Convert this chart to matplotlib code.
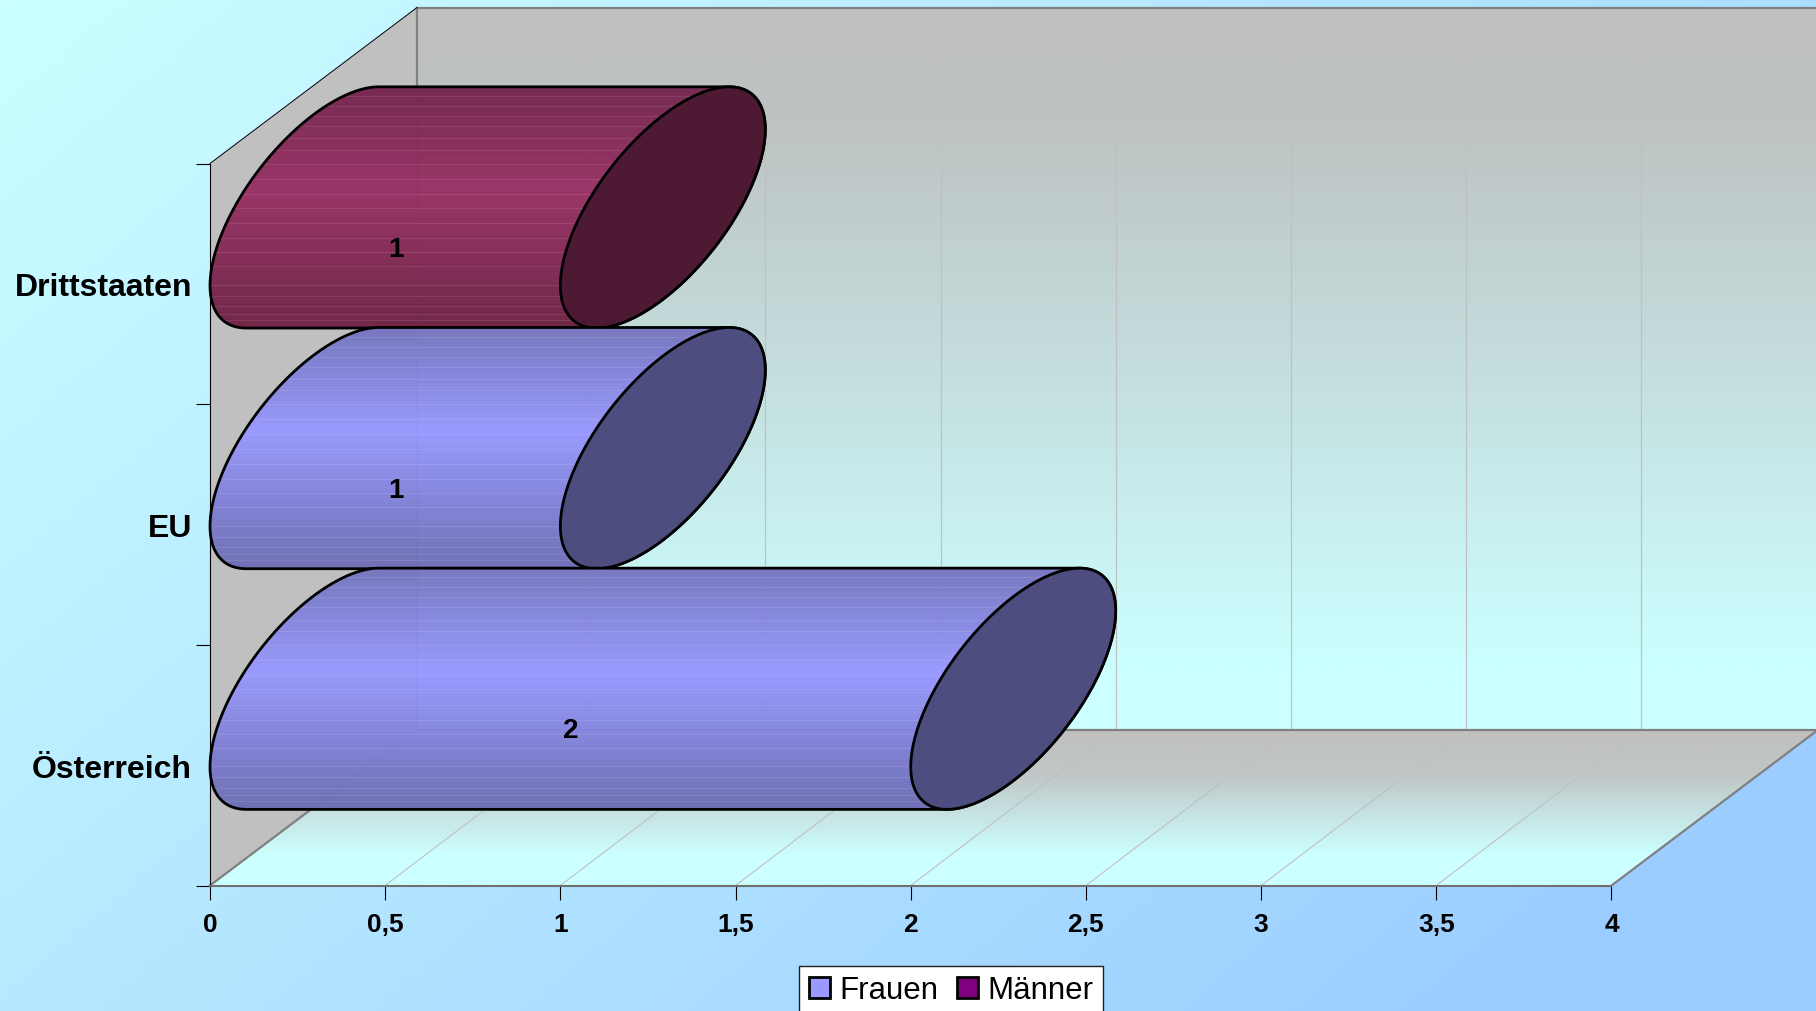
import numpy as np
import matplotlib
matplotlib.use("Agg")
import matplotlib.pyplot as plt
from matplotlib.colors import LinearSegmentedColormap
from matplotlib.patches import Patch, Polygon

categories = ["Österreich", "EU", "Drittstaaten"]
frauen = [2, 1, 0]
maenner = [0, 0, 1]
x_ticks = [0, 0.5, 1, 1.5, 2, 2.5, 3, 3.5, 4]
x_labels = ["0", "0,5", "1", "1,5", "2", "2,5", "3", "3,5", "4"]

plt.rcParams["font.family"] = ["Liberation Sans", "DejaVu Sans"]

W, H = 1816, 1012
# axes box in pixels, depth of the fake 3d box in data units
X0, X1, Y0, Y1 = 210, 1611.5, 886.5, 164.5
XMAX, YMAX = 4, 3
DX = 207 / ((X1 - X0) / XMAX)
DY = 156 / ((Y0 - Y1) / YMAX)
DX_GRID = 205 / ((X1 - X0) / XMAX)  # wall gridlines sit a little left of the corner offset
RV = 92 / ((Y0 - Y1) / YMAX)  # vertical radius of the cylinders
RX = 0.495 * DX  # horizontal radius of the caps
RD = DY / 2
SHIFT = 1.6 / ((Y0 - Y1) / YMAX)

fig = plt.figure(figsize=(W / 100, H / 100), dpi=100)

# page background
bg = fig.add_axes([0, 0, 1, 1], zorder=-1)
yy, xx = np.mgrid[0:1:200j, 0:1:200j]
page = LinearSegmentedColormap.from_list("page", ["#CCFFFF", "#99CCFF"])
bg.imshow(np.clip(0.65 * xx + 0.42 * yy, 0, 1), cmap=page, vmin=0, vmax=1, aspect="auto")
bg.axis("off")

ax = fig.add_axes([X0 / W, (H - Y0) / H, (X1 - X0) / W, (Y0 - Y1) / H])
ax.patch.set_visible(False)


def clipped_gradient(colors, extent, clip_pts, zorder, alpha=None):
    cmap = LinearSegmentedColormap.from_list("g", colors)
    grad = np.linspace(0, 1, 256).reshape(-1, 1)
    im = ax.imshow(grad, cmap=cmap, extent=extent, origin="upper", aspect="auto",
                   zorder=zorder, alpha=alpha, interpolation="bilinear")
    poly = Polygon(clip_pts, closed=True, transform=ax.transData)
    im.set_clip_box(fig.bbox)
    im.set_clip_path(poly)
    return im


# walls and floor
back_pts = [(DX, DY), (XMAX + DX, DY), (XMAX + DX, YMAX + DY), (DX, YMAX + DY)]
clipped_gradient([(0, "#C0C0C0"), (0.15, "#BEC2C2"), (0.91, "#CCFFFF"), (1, "#CCFFFF")],
                 (DX, XMAX + DX, DY, YMAX + DY), back_pts, 0.5)
floor_pts = [(0, 0), (XMAX, 0), (XMAX + DX, DY), (DX, DY)]
clipped_gradient([(0, "#C0C0C0"), (0.28, "#C0C6C6"), (0.8, "#CCFFFF"), (1, "#CCFFFF")],
                 (0, XMAX + DX, 0, DY), floor_pts, 0.5)
ax.add_patch(Polygon([(0, 0), (DX, DY), (DX, YMAX + DY), (0, YMAX)], closed=True,
                     fc="#C0C0C0", ec="none", clip_on=False, zorder=0.6))

# grid
for v in x_ticks[1:]:
    ax.plot([v, v + DX_GRID], [0, DY], color="#C0C0C0", lw=0.8, clip_on=False, zorder=0.8)
    if v < XMAX:
        ax.plot([v + DX_GRID, v + DX_GRID], [DY, YMAX + DY], color="#C0C0C0", lw=0.9,
                clip_on=False, zorder=0.8)

# box edges
edge = dict(color="#808080", lw=1.6, clip_on=False, zorder=0.9)
ax.plot([DX, XMAX + DX], [YMAX + DY, YMAX + DY], **edge)
ax.plot([DX, DX], [DY, YMAX + DY], **edge)
ax.plot([DX, XMAX + DX], [DY, DY], **edge)
ax.plot([0, DX], [0, DY], **edge)
ax.plot([XMAX, XMAX + DX], [0, DY], **edge)
ax.plot([0, DX], [YMAX, YMAX + DY], color="black", lw=0.7, clip_on=False, zorder=0.9)

# seams of the banded gradient, as fraction of cylinder height from the top
seams = np.array([28, 58, 88, 118, 155, 190, 232, 277, 322, 366, 412, 457, 500,
                  542, 598, 631, 662, 685, 703]) / 728
tt = np.linspace(0, np.pi, 80)
t0 = np.arctan2(RD, RV)


def cap(xc, yc, t):
    return np.column_stack([xc + RX * np.sin(t), yc + RV * np.cos(t) + RD * np.sin(t)])


def cylinder(left, width, slot, shades, cap_color, z):
    yc = slot + 0.5 + DY / 2 - SHIFT
    xl = left + RX
    xr = left + width + RX
    body = np.vstack([cap(xr, yc, t0 + tt), cap(xl, yc, t0 + np.pi + tt)])
    top = yc + np.hypot(RV, RD)
    bot = yc - np.hypot(RV, RD)
    clipped_gradient([(0, shades[0]), (0.43, shades[1]), (1, shades[2])],
                     (left, left + width + DX, bot, top), body, z, alpha=0.98)
    for s in seams:
        y = top - s * (top - bot)
        line, = ax.plot([left, left + width + DX], [y, y], color="white", lw=0.7, alpha=0.1,
                        zorder=z + 0.1)
        line.set_clip_box(fig.bbox)
        line.set_clip_path(Polygon(body, transform=ax.transData))
    ax.add_patch(Polygon(body, closed=True, fc="none", ec="black", lw=2, clip_on=False,
                         joinstyle="round", zorder=z + 0.2))
    ax.add_patch(Polygon(cap(xr, yc, np.linspace(0, 2 * np.pi, 160)), closed=True, fc=cap_color,
                         ec="black", lw=2, clip_on=False, zorder=z + 0.3))


blue = ("#7676BF", "#9999FF", "#6E6EB4")
maroon = ("#752750", "#993366", "#702446")
for i in range(len(categories) - 1, -1, -1):
    z = 3 + (len(categories) - i)
    if frauen[i]:
        cylinder(0, frauen[i], i, blue, "#4D4D80", z)
    if maenner[i]:
        cylinder(frauen[i], maenner[i], i, maroon, "#4D1933", z)
    total = frauen[i] + maenner[i]
    ax.annotate(str(total), (total / 2, i + 0.5), xytext=(7.5, 25), textcoords="offset points",
                ha="center", va="center", fontsize=20, fontweight="bold", color="black",
                annotation_clip=False, zorder=10)

ax.set_xlim(0, XMAX)
ax.set_ylim(0, YMAX)
ax.set_xticks(x_ticks)
ax.set_xticklabels(x_labels, fontsize=19, fontweight="bold")
ax.set_yticks(range(YMAX + 1))
ax.set_yticklabels([])
ax.set_yticks(np.arange(len(categories)) + 0.5, minor=True)
ax.set_yticklabels(categories, minor=True, fontsize=23, fontweight="bold")
ax.tick_params(axis="x", length=10, width=0.8, pad=9, color="black")
ax.tick_params(axis="y", which="major", length=10, width=0.8, color="black")
ax.tick_params(axis="y", which="minor", length=0, pad=13)
for s in ["top", "right"]:
    ax.spines[s].set_visible(False)
ax.spines["left"].set_linewidth(0.8)
ax.spines["bottom"].set_color("#707070")
ax.spines["bottom"].set_linewidth(1.5)

handles = [Patch(fc="#9999FF", ec="black", lw=2, label="Frauen"),
           Patch(fc="#800080", ec="black", lw=2, label="Männer")]
leg = fig.legend(handles=handles, loc="center", bbox_to_anchor=(951 / W, 1 - 991.5 / H), ncol=2,
                 fontsize=22.5, frameon=True, fancybox=False, framealpha=1, edgecolor="#202020",
                 handlelength=0.67, handleheight=0.67, handletextpad=0.3, columnspacing=0.6,
                 borderpad=0.3, borderaxespad=0)
leg.get_frame().set_linewidth(1.0)

fig.savefig("out.png", dpi=100)
